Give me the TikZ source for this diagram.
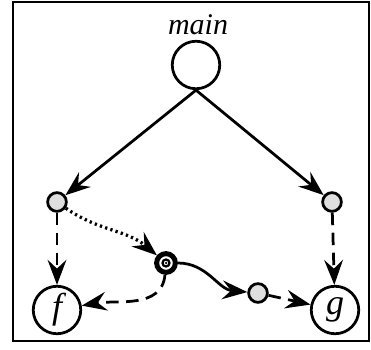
\documentclass[tikz,border=0pt]{standalone}
\usepackage{fontspec}
\setmainfont{Liberation Serif}
\usetikzlibrary{arrows.meta, calc}

\begin{document}
\begin{tikzpicture}[x=0.4pt, y=-0.4pt, line width=1.1pt,
  >={Stealth[length=10pt, width=7.5pt, inset=3.5pt]},
  bignode/.style={circle, draw, minimum size=19pt, inner sep=0pt, font=\itshape\Large},
  smallnode/.style={circle, draw, fill=gray!25, minimum size=7.5pt, inner sep=0pt},
  ringnode/.style={circle, draw, line width=2pt, minimum size=7.5pt, inner sep=0pt},
  dashedge/.style={->, dash pattern=on 5pt off 3pt},
  dotedge/.style={->, line width=1.3pt, dash pattern=on 0.9pt off 1.3pt}]
  \useasboundingbox (0,0) rectangle (371,350);
  \draw[line width=0.6pt] (13,2) rectangle (369,341);

  % nodes
  \node[bignode] (main) at (196,65) {};
  \node[font=\itshape\large] (mainlabel) at (198,25) {main};
  \node[smallnode] (lsm) at (57,202) {};
  \node[smallnode] (rsm) at (332,202) {};
  \node[bignode] (f) at (57,310) {f};
  \node[bignode] (g) at (335,310) {g};
  \node[ringnode] (dbl) at (166,263) {};
  \draw[line width=0.9pt] (dbl.center) circle (1.4pt);
  \fill (dbl.center) circle (0.5pt);
  \node[smallnode] (msm) at (258,293) {};

  % edges
  \draw[->] (main.south) -- (lsm);
  \draw[->] (main.south) -- (rsm);
  \draw[dashedge] (lsm) -- (f);
  \draw[dashedge] (rsm) -- (g);
  \draw[dotedge] (lsm) to[out=-35, in=140] (dbl);
  \draw[dashedge] (dbl) to[out=-95, in=10] (f);
  \draw[->] (dbl) to[out=0, in=175] (msm);
  \draw[dashedge] (msm) -- (g);
\end{tikzpicture}
\end{document}
